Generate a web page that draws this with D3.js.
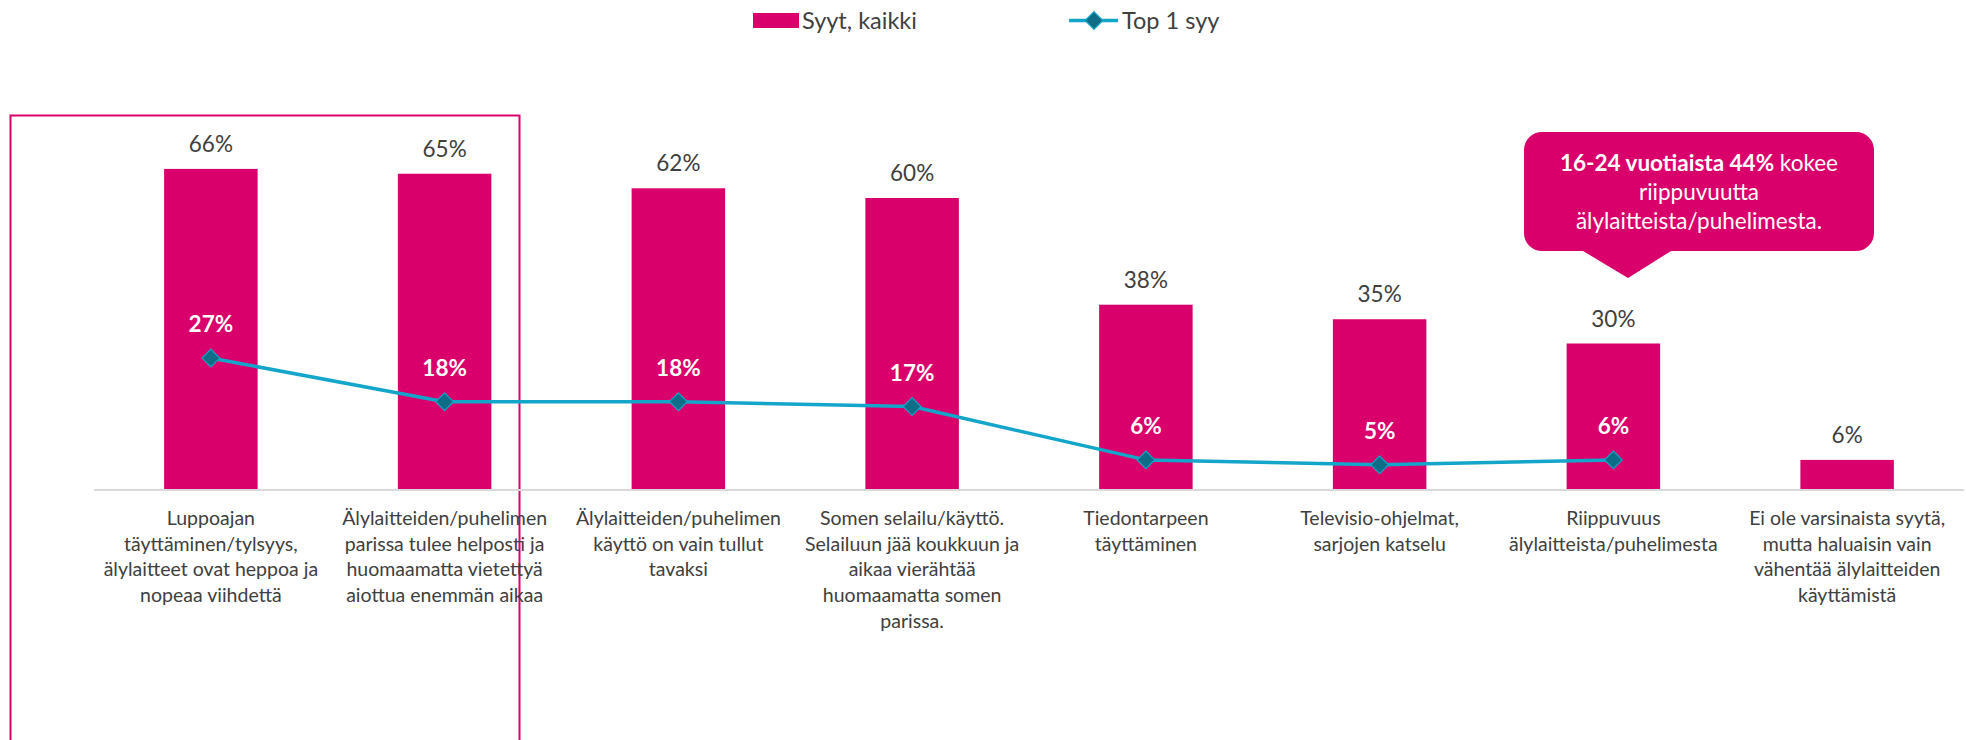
<!DOCTYPE html>
<html>
<head>
<meta charset="utf-8">
<script src="https://cdn.jsdelivr.net/npm/d3@7"></script>
<style>
  html, body { margin: 0; padding: 0; background: #fff; }
  svg { display: block; font-family: Lato, "Noto Sans", sans-serif; }
</style>
</head>
<body>
<svg id="chart" width="1966" height="740"></svg>
<script>
// ---- data ----
const categories = [
  "Luppoajan\ntäyttäminen/tylsyys,\nälylaitteet ovat heppoa ja\nnopeaa viihdettä",
  "Älylaitteiden/puhelimen\nparissa tulee helposti ja\nhuomaamatta vietettyä\naiottua enemmän aikaa",
  "Älylaitteiden/puhelimen\nkäyttö on vain tullut\ntavaksi",
  "Somen selailu/käyttö.\nSelailuun jää koukkuun ja\naikaa vierähtää\nhuomaamatta somen\nparissa.",
  "Tiedontarpeen\ntäyttäminen",
  "Televisio-ohjelmat,\nsarjojen katselu",
  "Riippuvuus\nälylaitteista/puhelimesta",
  "Ei ole varsinaista syytä,\nmutta haluaisin vain\nvähentää älylaitteiden\nkäyttämistä"
];
const allReasons = [66, 65, 62, 60, 38, 35, 30, 6];       // Syyt, kaikki
const topReason  = [27, 18, 18, 17, 6, 5, 6, null];       // Top 1 syy
const seriesNames = ["Syyt, kaikki", "Top 1 syy"];
const calloutBold = "16-24 vuotiaista 44%";
const calloutRest = [" kokee", "riippuvuutta", "älylaitteista/puhelimesta."];

// ---- styles ----
const PINK = "#d9006c";
const LINE = "#14a5ca";
const MARK = "#0d6d86";
const TEXT = "#404040";

const svg = d3.select("#chart");

const x = d3.scaleBand().domain(categories).range([94, 1964]).paddingInner(0.6).paddingOuter(0.3);
const y = d3.scaleLinear().domain([0, 100]).range([489, 4]);

// highlight frame
svg.append("rect")
  .attr("x", 10.5).attr("y", 115.5).attr("width", 509).attr("height", 700)
  .attr("fill", "none").attr("stroke", PINK).attr("stroke-width", 2);

// axis line
svg.append("line")
  .attr("x1", 94).attr("x2", 1964).attr("y1", y(0) + 1).attr("y2", y(0) + 1)
  .attr("stroke", "#d9d9d9").attr("stroke-width", 2);

// bars
svg.selectAll("rect.bar").data(allReasons).join("rect")
  .attr("class", "bar")
  .attr("x", (d, i) => x(categories[i]))
  .attr("width", x.bandwidth())
  .attr("y", d => y(d))
  .attr("height", d => y(0) - y(d))
  .attr("fill", PINK);

// bar labels
svg.selectAll("text.barlab").data(allReasons).join("text")
  .attr("class", "barlab")
  .attr("x", (d, i) => x(categories[i]) + x.bandwidth() / 2)
  .attr("y", d => y(d) - 17)
  .attr("text-anchor", "middle")
  .attr("font-size", 22.5)
  .attr("fill", TEXT)
  .text(d => d + "%");

// line series
const pts = topReason.map((v, i) => ({v, c: categories[i]})).filter(p => p.v != null);
const cx = p => x(p.c) + x.bandwidth() / 2;
svg.append("path")
  .datum(pts)
  .attr("fill", "none")
  .attr("stroke", LINE)
  .attr("stroke-width", 3.5)
  .attr("stroke-linejoin", "round")
  .attr("d", d3.line().x(cx).y(p => y(p.v)));

const diamond = d3.symbol().type(d3.symbolDiamond2).size(200);
svg.selectAll("path.mk").data(pts).join("path")
  .attr("class", "mk")
  .attr("transform", p => `translate(${cx(p)},${y(p.v)})`)
  .attr("d", diamond)
  .attr("fill", MARK)
  .attr("stroke", LINE)
  .attr("stroke-width", 1.2);

svg.selectAll("text.linelab").data(pts).join("text")
  .attr("class", "linelab")
  .attr("x", cx)
  .attr("y", p => y(p.v) - 26)
  .attr("text-anchor", "middle")
  .attr("font-size", 22.5)
  .attr("font-weight", "bold")
  .attr("fill", "#fff")
  .text(p => p.v + "%");

// category labels
const lab = svg.selectAll("text.cat").data(categories).join("text")
  .attr("class", "cat")
  .attr("text-anchor", "middle")
  .attr("font-size", 19.5)
  .attr("fill", TEXT);
lab.each(function(c) {
  const t = d3.select(this);
  c.split("\n").forEach((line, j) => {
    t.append("tspan")
      .attr("x", x(c) + x.bandwidth() / 2)
      .attr("y", 525 + j * 25.7)
      .text(line);
  });
});

// legend
const lg = svg.append("g");
lg.append("rect").attr("x", 753).attr("y", 13).attr("width", 46).attr("height", 15).attr("fill", PINK);
lg.append("text").attr("x", 802).attr("y", 28.5).attr("font-size", 23.5).attr("fill", TEXT).text(seriesNames[0]);
lg.append("line").attr("x1", 1069).attr("x2", 1118).attr("y1", 20.5).attr("y2", 20.5)
  .attr("stroke", LINE).attr("stroke-width", 3.5);
lg.append("path").attr("transform", "translate(1094,20.5)").attr("d", diamond)
  .attr("fill", MARK).attr("stroke", LINE).attr("stroke-width", 1.2);
lg.append("text").attr("x", 1122).attr("y", 28.5).attr("font-size", 23.5).attr("fill", TEXT).text(seriesNames[1]);

// callout
const bx0 = 1524, bx1 = 1874, by0 = 132, by1 = 251, r = 18;
const tipX = 1628;
const p = d3.path();
p.moveTo(bx0 + r, by0);
p.lineTo(bx1 - r, by0);
p.arcTo(bx1, by0, bx1, by0 + r, r);
p.lineTo(bx1, by1 - r);
p.arcTo(bx1, by1, bx1 - r, by1, r);
p.lineTo(1671, by1);
p.lineTo(tipX, 278);
p.lineTo(1583, by1);
p.lineTo(bx0 + r, by1);
p.arcTo(bx0, by1, bx0, by1 - r, r);
p.lineTo(bx0, by0 + r);
p.arcTo(bx0, by0, bx0 + r, by0, r);
p.closePath();
svg.append("path").attr("d", p.toString()).attr("fill", PINK);

const ct = svg.append("text").attr("text-anchor", "middle").attr("font-size", 22.5).attr("fill", "#fff");
const ccx = (bx0 + bx1) / 2;
const l1 = ct.append("tspan").attr("x", ccx).attr("y", 171);
l1.append("tspan").attr("font-weight", "bold").text(calloutBold);
l1.append("tspan").text(calloutRest[0]);
ct.append("tspan").attr("x", ccx).attr("y", 200).text(calloutRest[1]);
ct.append("tspan").attr("x", ccx).attr("y", 229).text(calloutRest[2]);
</script>
</body>
</html>
